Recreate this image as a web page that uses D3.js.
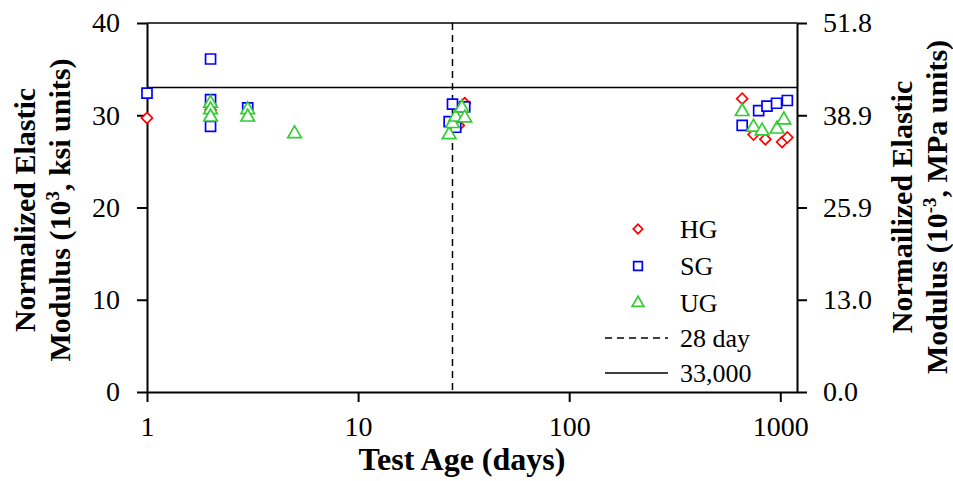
<!DOCTYPE html>
<html>
<head>
<meta charset="utf-8">
<script src="https://cdn.jsdelivr.net/npm/d3@7"></script>
<style>
  body { margin: 0; background: #fff; }
  svg { display: block; }
  text { font-family: "Liberation Serif", "Times New Roman", serif; fill: #000; }
</style>
</head>
<body>
<svg id="chart" width="953" height="481"></svg>
<script>
// ---- data ----
const hgAge = [1, 2, 30, 32, 660, 747, 850, 1020, 1080];
const hgVal = [29.7, 30.6, 28.9, 31.3, 31.8, 27.9, 27.4, 27.1, 27.6];
const sgAge = [1, 2, 2, 2, 3, 27, 28, 29, 32, 660, 790, 865, 960, 1080];
const sgVal = [32.4, 36.1, 31.7, 28.8, 30.8, 29.3, 31.2, 28.7, 30.9, 28.9, 30.5, 31.0, 31.3, 31.6];
const ugAge = [2, 2, 2, 3, 3, 5, 27, 28, 29, 31, 32, 660, 747, 820, 965, 1040];
const ugVal = [31.3, 30.6, 29.8, 30.6, 29.8, 28.0, 27.9, 29.1, 29.8, 30.8, 29.7, 30.4, 28.7, 28.3, 28.5, 29.5];
const xTicks = [1, 10, 100, 1000];
const xTickLabels = ["1", "10", "100", "1000"];
const yTicks = [0, 10, 20, 30, 40];
const rightTickLabels = ["0.0", "13.0", "25.9", "38.9", "51.8"];
const refAge = 28;
const refModulus = 33;
const seriesNames = ["HG", "SG", "UG"];
const lineNames = ["28 day", "33,000"];

// ---- layout ----
const svg = d3.select("#chart");
const L = 147, R = 797, T = 23, B = 392;
const x = d3.scaleLog().domain([1, 1200]).range([L, R]);
const y = d3.scaleLinear().domain([0, 40]).range([B, T]);

const colors = { HG: "#ff0000", SG: "#0000ff", UG: "#33cc33" };
const shapes = { HG: d3.symbolSquare, SG: d3.symbolSquare, UG: d3.symbolTriangle };
const sizes = { HG: 60, SG: 100, UG: 80 };
const rot = { HG: 45, SG: 0, UG: 0 };

// frame top
svg.append("line").attr("x1", L).attr("x2", R).attr("y1", T).attr("y2", T)
  .attr("stroke", "#000").attr("stroke-width", 1.5);

// reference lines
svg.append("line").attr("x1", L).attr("x2", R).attr("y1", y(refModulus)).attr("y2", y(refModulus))
  .attr("stroke", "#000").attr("stroke-width", 1.5);
svg.append("line").attr("x1", x(refAge)).attr("x2", x(refAge)).attr("y1", T).attr("y2", B)
  .attr("stroke", "#000").attr("stroke-width", 1.5).attr("stroke-dasharray", "7,5");

// axes
function styleAxis(g) {
  g.select(".domain").attr("stroke", "#000").attr("stroke-width", 2);
  g.selectAll(".tick line").attr("stroke", "#000").attr("stroke-width", 2);
  g.selectAll(".tick text").style("font-size", "28px").attr("fill", "#000");
}
const xAxis = svg.append("g").attr("transform", `translate(0,${B})`)
  .call(d3.axisBottom(x).tickValues(xTicks).tickFormat((d, i) => xTickLabels[i]).tickSize(10).tickPadding(14).tickSizeOuter(0));
styleAxis(xAxis);
const yAxisL = svg.append("g").attr("transform", `translate(${L},0)`)
  .call(d3.axisLeft(y).tickValues(yTicks).tickSize(10).tickPadding(17).tickSizeOuter(0));
styleAxis(yAxisL);
const yAxisR = svg.append("g").attr("transform", `translate(${R},0)`)
  .call(d3.axisRight(y).tickValues(yTicks).tickFormat((d, i) => rightTickLabels[i]).tickSize(10).tickPadding(16).tickSizeOuter(0));
styleAxis(yAxisR);

// points: HG, SG, UG
const series = [
  { name: "HG", ages: hgAge, vals: hgVal },
  { name: "SG", ages: sgAge, vals: sgVal },
  { name: "UG", ages: ugAge, vals: ugVal }
];
series.forEach(s => {
  const sym = d3.symbol().type(shapes[s.name]).size(sizes[s.name]);
  svg.append("g").selectAll("path").data(s.ages.map((a, i) => [a, s.vals[i]])).join("path")
    .attr("d", sym)
    .attr("transform", d => `translate(${x(d[0])},${y(d[1])}) rotate(${rot[s.name]})`)
    .attr("fill", "#fff").attr("stroke", colors[s.name]).attr("stroke-width", 1.7);
});

// legend
const lg = svg.append("g");
const legX = 638, textX = 680;
const rowY = [229, 266, 303, 338, 373];
seriesNames.forEach((n, i) => {
  const sym = d3.symbol().type(shapes[n]).size(sizes[n] * 0.75);
  lg.append("path").attr("d", sym).attr("transform", `translate(${legX},${rowY[i]}) rotate(${rot[n]})`)
    .attr("fill", "#fff").attr("stroke", colors[n]).attr("stroke-width", 1.7);
  lg.append("text").attr("x", textX).attr("y", rowY[i]).attr("dy", "0.35em")
    .style("font-size", "26px").text(n);
});
lineNames.forEach((n, j) => {
  const yy = rowY[3 + j];
  lg.append("line").attr("x1", 605).attr("x2", 668).attr("y1", yy).attr("y2", yy)
    .attr("stroke", "#000").attr("stroke-width", 1.5).attr("stroke-dasharray", j === 0 ? "7,5" : null);
  lg.append("text").attr("x", textX).attr("y", yy).attr("dy", "0.35em")
    .style("font-size", "26px").text(n);
});

// axis titles
svg.append("text").attr("x", 462).attr("y", 470).attr("text-anchor", "middle")
  .style("font-size", "32px").style("font-weight", "bold").text("Test Age (days)");

const lt = svg.append("text").attr("transform", "translate(35,210) rotate(-90)")
  .attr("text-anchor", "middle").style("font-size", "30px").style("font-weight", "bold");
lt.append("tspan").attr("x", 0).attr("y", 0).text("Normalized Elastic");
lt.append("tspan").attr("x", 0).attr("y", 35).text("Modulus (10");
lt.append("tspan").attr("dy", -11).style("font-size", "19px").text("3");
lt.append("tspan").attr("dy", 11).text(", ksi units)");

const rt = svg.append("text").attr("transform", "translate(912,207) rotate(-90)")
  .attr("text-anchor", "middle").style("font-size", "30px").style("font-weight", "bold");
rt.append("tspan").attr("x", 0).attr("y", 0).text("Normailized Elastic");
rt.append("tspan").attr("x", 0).attr("y", 35).text("Modulus (10");
rt.append("tspan").attr("dy", -11).style("font-size", "19px").text("-3");
rt.append("tspan").attr("dy", 11).text(", MPa units)");
</script>
</body>
</html>
